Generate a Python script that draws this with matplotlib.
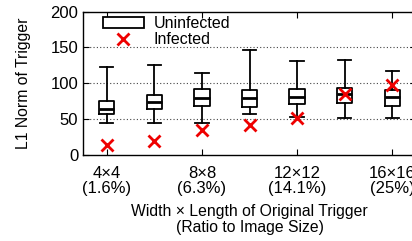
import matplotlib
matplotlib.use("Agg")
import matplotlib.pyplot as plt
from matplotlib.lines import Line2D
from matplotlib.patches import Rectangle

plt.rcParams['font.family'] = ['Liberation Sans', 'DejaVu Sans']
plt.rcParams['font.size'] = 12

# trigger sizes (every box), labels only on every other position
sizes = ["4×4", "6×6", "8×8", "10×10", "12×12", "14×14", "16×16"]
tick_labels = ["4×4\n(1.6%)", "8×8\n(6.3%)", "12×12\n(14.1%)", "16×16\n(25%)"]
# uninfected box statistics
whisk_low = [45, 44, 44, 57, 53, 52, 52]
q1 = [57, 64, 68, 67, 71, 72, 68]
med = [64, 74, 79, 79, 81, 85, 81]
q3 = [75, 84, 92, 91, 92, 94, 91]
whisk_high = [122, 126, 114, 146, 131, 133, 117]
# infected
infected = [14, 20, 35, 42, 52, 85, 98]

fig = plt.figure(figsize=(4.12, 2.41), dpi=100)
ax = fig.add_axes([83/412, 1-155/241, (416-83)/412, (155-11.5)/241])

stats = []
for i in range(len(sizes)):
    stats.append(dict(whislo=whisk_low[i], q1=q1[i], med=med[i], q3=q3[i],
                      whishi=whisk_high[i], fliers=[], label=sizes[i]))
pos = list(range(len(sizes)))
lw = 1.3
ax.bxp(stats, positions=pos, widths=0.32, showfliers=False,
       boxprops=dict(color='black', linewidth=lw),
       medianprops=dict(color='black', linewidth=2),
       whiskerprops=dict(color='black', linewidth=lw),
       capprops=dict(color='black', linewidth=lw), capwidths=0.28)
ax.plot(pos, infected, linestyle='none', marker='x', color='#ee0000',
        markersize=9, markeredgewidth=2, zorder=5)

ax.set_xlim(-0.5, 6.5)
ax.set_ylim(0, 200)
ax.set_yticks([0, 50, 100, 150, 200])
ax.set_xticks(pos[::2])
ax.set_xticklabels(tick_labels, linespacing=1.0)
ax.tick_params(direction='in', top=True, right=True, length=4, width=0.8)
ax.tick_params(axis='x', pad=8)
for y in [50, 100, 150]:
    ax.axhline(y, color='#444444', linestyle=(0, (1, 2)), linewidth=0.8, zorder=0)
for s in ax.spines.values():
    s.set_linewidth(1.0)

ax.set_ylabel("L1 Norm of Trigger", labelpad=14, fontsize=11.3)
ax.set_xlabel("Width × Length of Original Trigger\n(Ratio to Image Size)",
              linespacing=1.05, labelpad=6, fontsize=11.3)

handles = [Rectangle((0, 0), 1, 1, facecolor='white', edgecolor='black', linewidth=lw),
           Line2D([], [], linestyle='none', marker='x', color='#ee0000',
                  markersize=9, markeredgewidth=2)]
ax.legend(handles, ["Uninfected", "Infected"], loc='upper left',
          bbox_to_anchor=(0.03, 1.035), frameon=False, handlelength=2.6,
          handleheight=0.6, labelspacing=0.05, borderaxespad=0.2, handletextpad=0.6,
          fontsize=11.5)

fig.savefig("out.png", dpi=100)
